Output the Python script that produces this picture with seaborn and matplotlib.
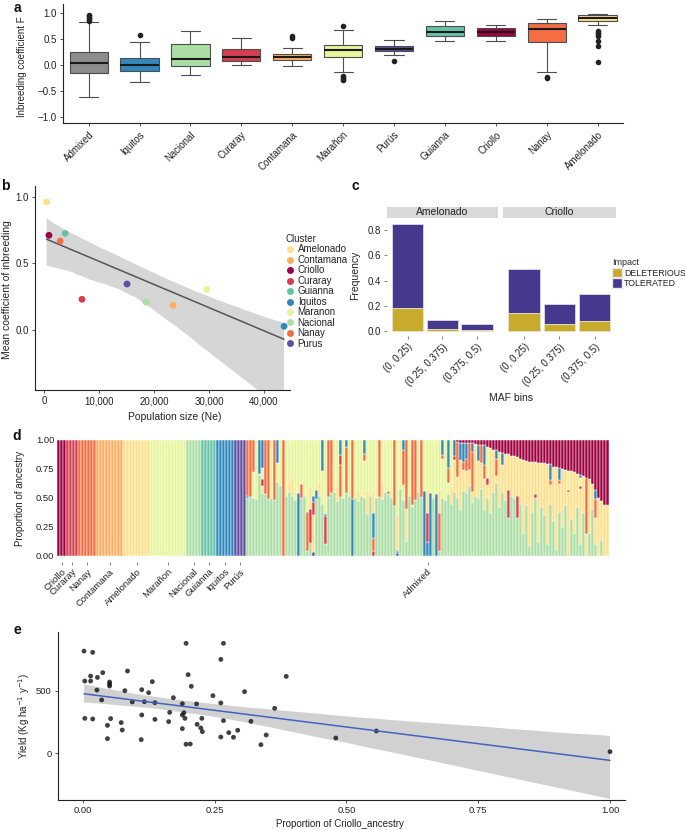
import numpy as np
import pandas as pd
import matplotlib
matplotlib.use("Agg")
import matplotlib.pyplot as plt
import seaborn as sns
from matplotlib.lines import Line2D
from matplotlib.patches import Patch

sns.set_theme(style="ticks")
plt.rcParams["font.family"] = ["Liberation Sans", "DejaVu Sans"]
plt.rcParams["axes.unicode_minus"] = True

# ---------------------------------------------------------------- colours
cluster_colors = {
    "Criollo": "#9e0142", "Curaray": "#d53e4f", "Nanay": "#f46d43",
    "Contamana": "#fdae61", "Amelonado": "#fee08b", "Maranon": "#e6f598",
    "Nacional": "#abdda4", "Guianna": "#66c2a5", "Iquitos": "#3288bd",
    "Purus": "#5e4fa2",
}
code_cluster = {"Cri": "Criollo", "Cur": "Curaray", "Nan": "Nanay", "Con": "Contamana",
                "Ame": "Amelonado", "Mar": "Maranon", "Nac": "Nacional", "Gui": "Guianna",
                "Iqu": "Iquitos", "Pur": "Purus"}

# ---------------------------------------------------------------- panel a data
box_groups = ["Admixed", "Iquitos", "Nacional", "Curaray", "Contamana", "Marañon",
              "Purús", "Guianna", "Criollo", "Nanay", "Amelonado"]
box_colors = ["#8c8c8c", "#3288bd", "#abdda4", "#d53e4f", "#fdae61", "#e6f598",
              "#5e4fa2", "#66c2a5", "#9e0142", "#f46d43", "#fee08b"]
F_admixed = [-0.615, -0.52, -0.43, -0.36, -0.30, -0.24, -0.19] + [-0.154] * 5 + [0.04] * 5 + [0.25] * 5 + \
            [0.45, 0.83, 0.86, 0.89, 0.92, 0.94, 0.96]
F_iquitos = [-0.314, -0.25, -0.18] + [-0.115] * 3 + [0.0] * 3 + [0.147] * 3 + [0.30, 0.44, 0.59]
F_nacional = [-0.18, -0.10, -0.02, -0.02, 0.12, 0.12, 0.42, 0.42, 0.55, 0.67]
F_curaray = [0.01, 0.05, 0.09, 0.09, 0.17, 0.17, 0.31, 0.31, 0.42, 0.53]
F_contamana = [-0.01, 0.05, 0.08] + [0.11] * 3 + [0.17] * 3 + [0.22] * 3 + [0.33, 0.53, 0.56]
F_maranon = [-0.28, -0.26, -0.23, -0.20, -0.12, 0.05] + [0.154] * 5 + [0.30] * 5 + [0.385] * 5 + \
            [0.42, 0.46, 0.50, 0.60, 0.68, 0.76]
F_purus = [0.09, 0.20, 0.27, 0.27, 0.32, 0.32, 0.37, 0.37, 0.42, 0.48]
F_guianna = [0.47, 0.52, 0.57, 0.57, 0.65, 0.65, 0.756, 0.756, 0.80, 0.85]
F_criollo = [0.46, 0.50, 0.57, 0.57, 0.65, 0.65, 0.71, 0.71, 0.74, 0.77]
F_nanay = [-0.25, -0.22, -0.12, 0.20] + [0.44] * 3 + [0.69] * 3 + [0.82] * 3 + [0.85, 0.87, 0.88, 0.90]
F_amelonado = [0.07, 0.37, 0.46, 0.57, 0.60, 0.63, 0.66, 0.78] + [0.846] * 6 + [0.91] * 6 + [0.96] * 6 + \
              [0.965, 0.97, 0.975, 0.98, 0.985, 0.99, 0.99, 0.99]
F_values = [F_admixed, F_iquitos, F_nacional, F_curaray, F_contamana, F_maranon,
            F_purus, F_guianna, F_criollo, F_nanay, F_amelonado]

# ---------------------------------------------------------------- panel b data
b_clusters = ["Amelonado", "Criollo", "Guianna", "Nanay", "Curaray", "Purus",
              "Nacional", "Contamana", "Maranon", "Iquitos"]
b_ne = [430, 850, 3800, 2900, 6860, 15060, 18520, 23440, 29570, 43650]
b_meanF = [0.96, 0.71, 0.725, 0.667, 0.23, 0.345, 0.21, 0.185, 0.305, 0.028]
b_legend_order = ["Amelonado", "Contamana", "Criollo", "Curaray", "Guianna",
                  "Iquitos", "Maranon", "Nacional", "Nanay", "Purus"]

# ---------------------------------------------------------------- panel c data
maf_bins = ["(0, 0.25)", "(0.25, 0.375)", "(0.375, 0.5)"]
amel_del = [0.181, 0.013, 0.008]
amel_tol = [0.670, 0.072, 0.050]
crio_del = [0.141, 0.053, 0.077]
crio_tol = [0.351, 0.160, 0.213]
DEL_COLOR = "#c9ab2b"
TOL_COLOR = "#45398e"

# ---------------------------------------------------------------- panel d data
pure_codes = ["Cri", "Cur", "Nan", "Con", "Ame", "Mar", "Nac", "Gui", "Iqu", "Pur"]
pure_counts = [3, 4, 6, 9, 9, 12, 5, 5, 6, 4]
d_labels = ["Criollo", "Curaray", "Nanay", "Contamana", "Amelonado", "Marañon",
            "Nacional", "Guianna", "Iquitos", "Purús", "Admixed"]
# admixed individuals: ancestry segments from bottom to top
admixed = [
    [("Nac", .50), ("Iqu", .02), ("Nan", .48)],
    [("Nac", .51), ("Nan", .49)],
    [("Nac", .50), ("Mar", .22), ("Nan", .28)],
    [("Nac", .49), ("Mar", .51)],
    [("Nac", .70), ("Mar", .01), ("Iqu", .29)],
    [("Nac", .54), ("Ame", .06), ("Cur", .06), ("Mar", .10), ("Iqu", .24)],
    [("Nac", .53), ("Nan", .47)],
    [("Nac", .49), ("Nan", .51)],
    [("Nac", .50), ("Mar", .42), ("Ame", .08)],
    [("Nac", .48), ("Nan", .52)],
    [("Nac", .64), ("Mar", .16), ("Iqu", .20)],
    [("Nac", .60), ("Mar", .40)],
    [("Nan", 1.0)],
    [("Nac", .52), ("Mar", .48)],
    [("Nac", .55), ("Ame", .10), ("Mar", .35)],
    [("Nac", .52), ("Ame", .15), ("Mar", .33)],
    [("Nac", .48), ("Mar", .52)],
    [("Iqu", .54), ("Mar", .46)],
    [("Nac", .50), ("Nan", .12), ("Mar", .38)],
    [("Nac", .52), ("Mar", .48)],
    [("Nac", .04), ("Nan", .34), ("Mar", .62)],
    [("Nac", .11), ("Cur", .29), ("Ame", .20), ("Mar", .40)],
    [("Pur", .03), ("Ame", .32), ("Cur", .11), ("Iqu", .06), ("Mar", .48)],
    [("Nac", .49), ("Iqu", .08), ("Mar", .43)],
    [("Nac", .52), ("Ame", .12), ("Mar", .36)],
    [("Nac", .45), ("Mar", .28), ("Iqu", .27)],
    [("Nac", .10), ("Cur", .24), ("Iqu", .02), ("Mar", .64)],
    [("Nac", .51), ("Nan", .49)],
    [("Nac", .54), ("Nan", .46)],
    [("Nac", .55), ("Mar", .45)],
    [("Nac", .47), ("Ame", .13), ("Mar", .40)],
    [("Nac", .51), ("Nan", .27), ("Cur", .09), ("Iqu", .13)],
    [("Nac", .50), ("Mar", .50)],
    [("Nac", .54), ("Nan", .40), ("Iqu", .06)],
    [("Nac", .52), ("Mar", .48)],
    [("Iqu", .49), ("Nan", .51)],
    [("Nac", .50), ("Mar", .50)],
    [("Nac", .47), ("Ame", .10), ("Mar", .43)],
    [("Nac", .52), ("Mar", .48)],
    [("Nac", .50), ("Mar", .32), ("Nan", .06), ("Iqu", .12)],
    [("Nac", .36), ("Ame", .20), ("Mar", .44)],
    [("Nac", .52), ("Mar", .48)],
    [("Cur", .04), ("Nan", .11), ("Iqu", .22), ("Ame", .18), ("Mar", .45)],
    [("Nac", .50), ("Mar", .50)],
    [("Nac", .51), ("Nan", .49)],
    [("Nac", .49), ("Ame", .15), ("Mar", .36)],
    [("Nac", .55), ("Mar", .45)],
    [("Nac", .53), ("Nan", .03), ("Mar", .44)],
    [("Nac", .50), ("Mar", .50)],
    [("Nac", .43), ("Nan", .57)],
    [("Pur", .02), ("Iqu", .02), ("Nac", .02), ("Ame", .30), ("Mar", .64)],
    [("Nac", .58), ("Mar", .42)],
    [("Nac", .48), ("Mar", .13), ("Nan", .30), ("Iqu", .09)],
    [("Nac", .13), ("Ame", .27), ("Nan", .60)],
    [("Nac", .52), ("Mar", .48)],
    [("Nac", .42), ("Mar", .02), ("Nan", .56)],
    [("Nac", .48), ("Nan", .52)],
    [("Nac", .55), ("Mar", .45)],
    [("Nac", .51), ("Nan", .49)],
    [("Iqu", .56), ("Mar", .44)],
    [("Iqu", .12), ("Cur", .25), ("Ame", .20), ("Mar", .43)],
    [("Iqu", .54), ("Mar", .46)],
    [("Nac", .50), ("Mar", .50)],
    [("Iqu", .53), ("Mar", .47)],
    [("Nac", .04), ("Nan", .33), ("Ame", .20), ("Mar", .43)],
    [("Nac", .50), ("Mar", .34), ("Nan", .03), ("Iqu", .13)],
    [("Nac", .48), ("Mar", .52)],
    [("Nac", .53), ("Mar", .10), ("Nan", .13), ("Iqu", .24)],
    [("Nac", .45), ("Ame", .15), ("Mar", .40)],
    [("Nac", .55), ("Ame", .28), ("Cur", .03), ("Iqu", .14)],
    [("Nac", .50), ("Ame", .18), ("Nan", .30), ("Cri", .02)],
    [("Nac", .40), ("Ame", .43), ("Iqu", .14), ("Cri", .03)],
    [("Nac", .56), ("Ame", .18), ("Nan", .07), ("Iqu", .16), ("Cri", .03)],
    [("Nac", .54), ("Ame", .19), ("Nan", .11), ("Iqu", .13), ("Cri", .03)],
    [("Nac", .60), ("Ame", .14), ("Nan", .23), ("Cri", .03)],
    [("Nac", .46), ("Ame", .09), ("Nan", .35), ("Iqu", .07), ("Cri", .03)],
    [("Nac", .52), ("Ame", .445), ("Cri", .035)],
    [("Nac", .50), ("Ame", .32), ("Iqu", .14), ("Cri", .04)],
    [("Nac", .58), ("Ame", .22), ("Nan", .16), ("Cri", .04)],
    [("Nac", .40), ("Ame", .265), ("Nan", .12), ("Iqu", .17), ("Cri", .045)],
    [("Nac", .50), ("Ame", .11), ("Cur", .06), ("Mar", .27), ("Cri", .06)],
    [("Nac", .37), ("Ame", .56), ("Cri", .07)],
    [("Nac", .55), ("Ame", .364), ("Cri", .086)],
    [("Nac", .63), ("Ame", .06), ("Nan", .15), ("Iqu", .07), ("Cri", .09)],
    [("Nac", .42), ("Ame", .48), ("Cri", .10)],
    [("Nac", .55), ("Ame", .236), ("Iqu", .10), ("Cri", .114)],
    [("Nac", .48), ("Ame", .40), ("Cri", .12)],
    [("Nac", .33), ("Cur", .24), ("Ame", .305), ("Cri", .125)],
    [("Nac", .52), ("Ame", .345), ("Cri", .135)],
    [("Nac", .50), ("Ame", .36), ("Cri", .14)],
    [("Nac", .33), ("Cur", .19), ("Ame", .33), ("Cri", .15)],
    [("Nac", .45), ("Ame", .39), ("Cri", .16)],
    [("Nac", .20), ("Ame", .63), ("Cri", .17)],
    [("Nac", .44), ("Ame", .38), ("Cri", .18)],
    [("Nac", .08), ("Ame", .73), ("Cri", .19)],
    [("Nac", .38), ("Ame", .43), ("Cri", .19)],
    [("Nac", .50), ("Cur", .03), ("Ame", .28), ("Cri", .19)],
    [("Nac", .12), ("Ame", .685), ("Cri", .195)],
    [("Nac", .42), ("Ame", .38), ("Cri", .20)],
    [("Nac", .35), ("Ame", .45), ("Cri", .20)],
    [("Nac", .10), ("Ame", .695), ("Cri", .205)],
    [("Nac", .45), ("Ame", .16), ("Nan", .04), ("Iqu", .14), ("Cri", .21)],
    [("Nac", .30), ("Ame", .47), ("Cri", .23)],
    [("Nac", .06), ("Ame", .71), ("Cri", .23)],
    [("Nac", .38), ("Ame", .24), ("Nan", .03), ("Iqu", .11), ("Cri", .24)],
    [("Nac", .25), ("Ame", .50), ("Cri", .25)],
    [("Nac", .44), ("Ame", .30), ("Cri", .26)],
    [("Ame", .55), ("Cur", .02), ("Mar", .16), ("Cri", .27)],
    [("Nac", .32), ("Ame", .41), ("Cri", .27)],
    [("Nac", .20), ("Ame", .52), ("Cri", .28)],
    [("Nac", .42), ("Ame", .29), ("Cri", .29)],
    [("Nac", .10), ("Ame", .48), ("Cur", .02), ("Mar", .07), ("Iqu", .03), ("Cri", .30)],
    [("Nac", .37), ("Ame", .32), ("Cri", .31)],
    [("Ame", .19), ("Nan", .48), ("Cri", .33)],
    [("Nac", .20), ("Ame", .46), ("Cri", .34)],
    [("Nac", .40), ("Ame", .22), ("Cri", .38)],
    [("Nac", .10), ("Ame", .23), ("Nan", .16), ("Iqu", .08), ("Cri", .43)],
    [("Ame", .50), ("Cri", .50)],
    [("Nac", .14), ("Ame", .33), ("Cri", .53)],
    [("Ame", .44), ("Cri", .56)],
    [("Ame", .44), ("Cri", .56)],
]

# ---------------------------------------------------------------- panel e data
criollo_prop = [0.0025, 0.019, 0.004, 0.015, 0.015, 0.028, 0.038, 0.027, 0.036, 0.051, 0.051, 0.051,
                0.004, 0.019, 0.053, 0.047, 0.047, 0.073, 0.075, 0.080, 0.085, 0.094, 0.112, 0.117,
                0.125, 0.132, 0.137, 0.112, 0.137, 0.111, 0.163, 0.165, 0.172, 0.189, 0.189, 0.192,
                0.194, 0.189, 0.196, 0.200, 0.196, 0.204, 0.206, 0.216, 0.217, 0.224, 0.226, 0.227,
                0.247, 0.262, 0.267, 0.262, 0.267, 0.262, 0.277, 0.286, 0.294, 0.307, 0.319, 0.338,
                0.348, 0.364, 0.386, 0.480, 0.557, 1.000]
yield_vals = [816, 806, 577, 577, 617, 606, 644, 505, 426, 569, 553, 537,
              279, 274, 277, 223, 117, 245, 186, 500, 657, 410, 508, 412,
              484, 572, 404, 306, 271, 109, 253, 327, 444, 396, 306, 324,
              279, 197, 878, 628, 72, 74, 535, 394, 231, 202, 279, 173,
              460, 750, 878, 402, 261, 130, 165, 128, 184, 492, 255, 69,
              146, 359, 614, 122, 178, 13]

# ---------------------------------------------------------------- figure
W, H = 685, 830
fig = plt.figure(figsize=(W / 100, H / 100), dpi=100)


def px_axes(l, t, r, b):
    return fig.add_axes([l / W, 1 - b / H, (r - l) / W, (b - t) / H])


def style_ax(ax, size=7):
    for s in ["top", "right"]:
        ax.spines[s].set_visible(False)
    for s in ["left", "bottom"]:
        ax.spines[s].set_color("#222222")
        ax.spines[s].set_linewidth(0.8)
    ax.tick_params(axis="both", length=2.5, width=0.6, color="#333333",
                   labelcolor="#222222", labelsize=size, pad=2)
    ax.set_xlabel("")
    ax.set_ylabel("")


TXT = "#222222"

# ---------------------------------------------------------------- a
ax_a = px_axes(63.2, 4, 623, 123.3)
df_a = pd.DataFrame({
    "group": [g for g, v in zip(box_groups, F_values) for _ in v],
    "F": [x for v in F_values for x in v],
})
sns.boxplot(data=df_a, x="group", y="F", hue="group", order=box_groups, hue_order=box_groups,
            palette=box_colors, saturation=1, width=0.75, linewidth=0.8, linecolor="#4d4d4d",
            fliersize=3, legend=False, ax=ax_a,
            flierprops=dict(marker="o", markerfacecolor="#222222", markeredgecolor="#222222"),
            medianprops=dict(color="#1a1a1a", linewidth=1.5))
style_ax(ax_a)
ax_a.set_xlim(-0.5, 10.5)
ax_a.set_ylim(-1.115, 1.18)
ax_a.set_yticks([-1, -0.5, 0, 0.5, 1.0])
ax_a.set_yticklabels(["\u22121.0", "\u22120.5", "0.0", "0.5", "1.0"])
ax_a.set_xticks(range(len(box_groups)))
ax_a.set_xticklabels(box_groups, rotation=45, ha="right", va="top", rotation_mode="anchor")
fig.text(22 / W, 1 - 67 / H, "Inbreeding coefficient F", rotation=90, ha="center", va="center",
         fontsize=7, color=TXT)

# ---------------------------------------------------------------- b
ax_b = px_axes(35, 186, 290, 390)
sns.regplot(x=b_ne, y=b_meanF, scatter=False, ax=ax_b, color="#555555", seed=0,
            line_kws=dict(linewidth=1.1, zorder=2))
for coll in ax_b.collections:
    coll.set_facecolor("#9a9a9a")
    coll.set_alpha(0.4)
    coll.set_edgecolor("none")
sns.scatterplot(x=b_ne, y=b_meanF, hue=b_clusters, palette=cluster_colors, s=24,
                edgecolor="none", legend=False, ax=ax_b, zorder=3)
style_ax(ax_b)
ax_b.set_xlim(-1690, 44730)
ax_b.set_ylim(-0.45, 1.08)
ax_b.set_yticks([0, 0.5, 1.0])
ax_b.set_yticklabels(["0.0", "0.5", "1.0"])
ax_b.set_xticks([0, 10000, 20000, 30000, 40000])
ax_b.set_xticklabels(["0", "10,000", "20,000", "30,000", "40,000"])
fig.text(7 / W, 1 - 290 / H, "Mean coefficient of inbreeding", rotation=90, ha="center",
         va="center", fontsize=7.5, color=TXT)
fig.text(175 / W, 1 - 416.7 / H, "Population size (Ne)", ha="center", va="center",
         fontsize=7.5, color=TXT)
b_handles = [Line2D([0], [0], marker="o", linestyle="", markersize=5,
                    markerfacecolor=cluster_colors[c], markeredgecolor="none", label=c)
             for c in b_legend_order]
leg_b = fig.legend(handles=b_handles, title="Cluster", loc="upper left",
                   bbox_to_anchor=(286 / W, 1 - 234 / H), frameon=False, fontsize=7,
                   title_fontsize=7, handlelength=0.9, handletextpad=0.3, labelspacing=0.05,
                   borderpad=0, borderaxespad=0, alignment="left")
for t in leg_b.get_texts():
    t.set_color(TXT)

# ---------------------------------------------------------------- c
panels_c = [("Amelonado", amel_del, amel_tol, 386.7, 498),
            ("Criollo", crio_del, crio_tol, 503, 615.7)]
for k, (name, dvals, tvals, l, r) in enumerate(panels_c):
    ax = px_axes(l, 218.5, r, 336.3)
    totals = np.add(dvals, tvals)
    sns.barplot(x=maf_bins, y=totals, color=TOL_COLOR, saturation=1, width=0.9,
                edgecolor="#dcdcea", linewidth=0.6, ax=ax)
    sns.barplot(x=maf_bins, y=dvals, color=DEL_COLOR, saturation=1, width=0.9,
                edgecolor="#efe9d0", linewidth=0.6, ax=ax)
    for s in ax.spines.values():
        s.set_visible(False)
    ax.set_xlim(-0.6, 2.6)
    ax.set_ylim(-0.0425, 0.8925)
    ax.set_yticks([0, 0.2, 0.4, 0.6, 0.8])
    ax.tick_params(axis="both", length=2, width=0.5, color="#555555", labelcolor=TXT,
                   labelsize=7, pad=2)
    ax.set_xticks(range(3))
    ax.set_xticklabels(maf_bins, rotation=45, ha="right", va="top", rotation_mode="anchor")
    ax.set_xlabel("")
    ax.set_ylabel("")
    if k == 0:
        ax.set_yticklabels(["0.0", "0.2", "0.4", "0.6", "0.8"])
    else:
        ax.tick_params(axis="y", left=False, labelleft=False)
    strip = px_axes(l, 206.7, r, 218)
    strip.set_facecolor("#d9d9d9")
    strip.set_xticks([])
    strip.set_yticks([])
    for s in strip.spines.values():
        s.set_visible(False)
    strip.text(0.5, 0.5, name, ha="center", va="center", fontsize=7.5, color=TXT,
               transform=strip.transAxes)
fig.text(355 / W, 1 - 275 / H, "Frequency", rotation=90, ha="center", va="center",
         fontsize=7.5, color=TXT)
fig.text(511 / W, 1 - 397.7 / H, "MAF bins", ha="center", va="center", fontsize=7.5, color=TXT)
c_handles = [Patch(facecolor=DEL_COLOR, edgecolor="#e8e8e8", label="DELETERIOUS"),
             Patch(facecolor=TOL_COLOR, edgecolor="#e8e8e8", label="TOLERATED")]
leg_c = fig.legend(handles=c_handles, title="Impact", loc="upper left",
                   bbox_to_anchor=(612 / W, 1 - 258 / H), frameon=False, fontsize=6.3,
                   title_fontsize=6.5, handlelength=1.1, handleheight=1.3, handletextpad=0.3,
                   labelspacing=0.1, borderpad=0, borderaxespad=0, alignment="left")
for t in leg_c.get_texts():
    t.set_color(TXT)

# ---------------------------------------------------------------- d
bars = [[(code, 1.0)] for code, n in zip(pure_codes, pure_counts) for _ in range(n)] + admixed
xs, hs, bs, cs = [], [], [], []
for i, segs in enumerate(bars):
    bottom = 0.0
    for code, frac in segs:
        xs.append(i)
        hs.append(frac)
        bs.append(bottom)
        cs.append(cluster_colors[code_cluster[code]])
        bottom += frac
d_left = 57.0
d_right = d_left + 3 * len(bars)
ax_d = px_axes(d_left, 434.2, d_right, 561.5)
ax_d.bar(xs, hs, bottom=bs, color=cs, width=1.0, edgecolor="white", linewidth=0.35)
for s in ax_d.spines.values():
    s.set_visible(False)
ax_d.set_xlim(-0.5, len(bars) - 0.5)
ax_d.set_ylim(-0.05, 1.05)
ax_d.set_yticks([0, 0.25, 0.5, 0.75, 1.0])
ax_d.set_yticklabels(["0.00", "0.25", "0.50", "0.75", "1.00"])
starts = np.cumsum([0] + pure_counts)
centers = [(starts[k] + starts[k + 1] - 1) / 2 for k in range(len(pure_counts))]
centers.append((starts[-1] + len(bars) - 1) / 2)
ax_d.set_xticks(centers)
ax_d.set_xticklabels(d_labels, rotation=45, ha="right", va="top", rotation_mode="anchor")
ax_d.tick_params(axis="both", length=2, width=0.5, color="#555555", labelcolor=TXT,
                 labelsize=6.8, pad=2)
ax_d.tick_params(axis="y", length=0)
fig.text(20 / W, 1 - 498 / H, "Proportion of ancestry", rotation=90, ha="center", va="center",
         fontsize=7, color=TXT)

# ---------------------------------------------------------------- e
ax_e = px_axes(57.9, 631.7, 625.3, 800)
sns.regplot(x=criollo_prop, y=yield_vals, ax=ax_e, seed=0, color="#111111",
            scatter_kws=dict(s=12, color="#111111", edgecolor="none", zorder=3),
            line_kws=dict(color="#4163c2", linewidth=1.1, zorder=4))
for coll in ax_e.collections:
    if coll.__class__.__name__ in ("PolyCollection", "FillBetweenPolyCollection"):
        coll.set_facecolor("#9a9a9a")
        coll.set_alpha(0.45)
        coll.set_edgecolor("none")
style_ax(ax_e, size=6.8)
ax_e.set_xlim(-0.047, 1.029)
ax_e.set_ylim(-373, 971)
ax_e.set_xticks([0, 0.25, 0.5, 0.75, 1.0])
ax_e.set_xticklabels(["0.00", "0.25", "0.50", "0.75", "1.00"])
ax_e.set_yticks([0, 500])
ax_e.set_yticklabels(["0", "500"])
fig.text(24 / W, 1 - 716 / H, "Yield (Kg ha$^{-1}$ y$^{-1}$)", rotation=90, ha="center",
         va="center", fontsize=7, color=TXT)
fig.text(340 / W, 1 - 824 / H, "Proportion of Criollo_ancestry", ha="center", va="center",
         fontsize=7, color=TXT)

# ---------------------------------------------------------------- panel letters
for letter, x, y in [("a", 17, 7.5), ("b", 5, 186), ("c", 355, 186), ("d", 17, 436), ("e", 17, 630)]:
    fig.text(x / W, 1 - y / H, letter, fontsize=10, fontweight="bold", ha="center", va="center",
             color="#111111")

fig.savefig("out.png", dpi=100)
